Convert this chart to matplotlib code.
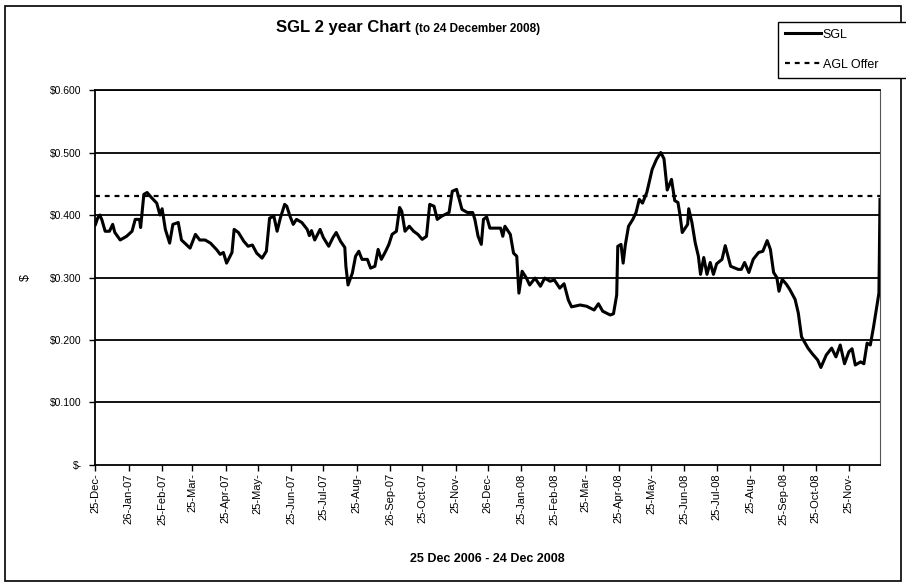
import numpy as np
import matplotlib
matplotlib.use('Agg')
import matplotlib.pyplot as plt
import matplotlib.patches as patches
import pandas as pd


#####################################################################
# data
#####################################################################
# days since 25 Dec 2006 and SGL close price ($)
days = [0, 2, 4, 6, 9, 13, 16, 18, 23, 29, 34, 37, 41, 42, 45, 48, 52, 57, 60, 62,
        65, 69, 72, 77, 80, 85, 88, 93, 97, 102, 107, 113, 116, 119, 122, 127, 129,
        133, 138, 142, 146, 150, 155, 159, 162, 166, 169, 172, 176, 178, 181, 184,
        187, 192, 197, 199, 201, 204, 209, 212, 217, 221, 224, 228, 232, 233, 235,
        239, 242, 245, 248, 253, 256, 260, 263, 266, 270, 273, 276, 280, 283, 285,
        288, 292, 296, 300, 304, 308, 311, 315, 318, 322, 329, 332, 336, 339, 341,
        346, 351, 353, 356, 359, 361, 364, 367, 377, 379, 381, 386, 389, 392, 394,
        397, 401, 404, 409, 414, 418, 423, 427, 432, 436, 440, 443, 451, 457, 464,
        468, 472, 479, 482, 485, 486, 489, 491, 493, 496, 500, 503, 506, 509, 513,
        518, 522, 526, 529, 532, 536, 539, 542, 544, 546, 551, 552, 555, 558, 561,
        563, 566, 569, 572, 575, 578, 583, 586, 591, 598, 601, 604, 608, 612, 617,
        621, 625, 628, 631, 634, 636, 639, 643, 646, 651, 654, 657, 663, 667, 672,
        675, 680, 685, 689, 693, 697, 701, 704, 707, 712, 715, 718, 721, 724, 727,
        729, 730]
sgl = [0.385, 0.395, 0.400, 0.392, 0.374, 0.374, 0.385, 0.372, 0.360, 0.366, 0.374,
       0.393, 0.393, 0.380, 0.433, 0.436, 0.428, 0.419, 0.400, 0.410, 0.377, 0.355,
       0.385, 0.388, 0.360, 0.352, 0.347, 0.369, 0.360, 0.360, 0.355, 0.344, 0.337,
       0.340, 0.323, 0.340, 0.377, 0.372, 0.358, 0.350, 0.352, 0.339, 0.331, 0.342,
       0.395, 0.398, 0.374, 0.395, 0.417, 0.414, 0.398, 0.385, 0.393, 0.388, 0.377,
       0.367, 0.375, 0.360, 0.377, 0.364, 0.350, 0.364, 0.372, 0.358, 0.348, 0.318,
       0.288, 0.307, 0.334, 0.342, 0.329, 0.329, 0.315, 0.318, 0.345, 0.329, 0.342,
       0.353, 0.369, 0.374, 0.412, 0.406, 0.374, 0.382, 0.374, 0.369, 0.361, 0.366,
       0.417, 0.414, 0.393, 0.398, 0.404, 0.438, 0.441, 0.422, 0.409, 0.404, 0.404,
       0.393, 0.366, 0.353, 0.393, 0.397, 0.379, 0.379, 0.366, 0.382, 0.369, 0.339,
       0.334, 0.275, 0.310, 0.299, 0.288, 0.299, 0.286, 0.299, 0.294, 0.296, 0.283,
       0.290, 0.264, 0.253, 0.256, 0.254, 0.248, 0.258, 0.246, 0.240, 0.242, 0.272,
       0.350, 0.353, 0.323, 0.352, 0.382, 0.393, 0.404, 0.425, 0.419, 0.436, 0.473,
       0.489, 0.500, 0.490, 0.440, 0.457, 0.423, 0.420, 0.399, 0.372, 0.385, 0.410,
       0.388, 0.356, 0.334, 0.305, 0.332, 0.305, 0.324, 0.305, 0.322, 0.329, 0.351,
       0.318, 0.313, 0.313, 0.324, 0.308, 0.329, 0.340, 0.342, 0.359, 0.345, 0.308,
       0.300, 0.278, 0.297, 0.289, 0.281, 0.265, 0.243, 0.205, 0.187, 0.178, 0.168,
       0.156, 0.176, 0.187, 0.173, 0.192, 0.162, 0.181, 0.186, 0.160, 0.165, 0.162,
       0.195, 0.192, 0.221, 0.254, 0.275, 0.425]
agl_offer = 0.43

xtick_labels = ['25-Dec-', '26-Jan-07', '25-Feb-07', '25-Mar-', '25-Apr-07', '25-May-',
                '25-Jun-07', '25-Jul-07', '25-Aug-', '26-Sep-07', '25-Oct-07', '25-Nov-',
                '26-Dec-', '25-Jan-08', '25-Feb-08', '25-Mar-', '25-Apr-08', '25-May-',
                '25-Jun-08', '25-Jul-08', '25-Aug-', '25-Sep-08', '25-Oct-08', '25-Nov-']
ytick_vals = [0.0, 0.1, 0.2, 0.3, 0.4, 0.5, 0.6]
ytick_labels = ['$-', '$0.100', '$0.200', '$0.300', '$0.400', '$0.500', '$0.600']

start = pd.Timestamp('2006-12-25')
end = pd.Timestamp('2008-12-24')
dates = start + pd.to_timedelta(days, unit='D')
# ticks on the 25th of every month
tick_dates = pd.date_range('2006-12-01', periods=len(xtick_labels), freq='MS') + pd.Timedelta(days=24)


#####################################################################
# plot
#####################################################################
plt.rcParams['font.family'] = ['Liberation Sans', 'DejaVu Sans']

fig = plt.figure(figsize=(9.06, 5.86), dpi=100)
ax = fig.add_axes([0.1054, 0.2065, 0.8659, 0.6399])

for v in ytick_vals[1:]:
    ax.axhline(v, color='black', lw=1.3, zorder=1)

ax.plot(dates, sgl, color='black', lw=2.2, label='SGL', zorder=3)
ax.plot([start, end], [agl_offer, agl_offer], color='black', lw=1.6,
        linestyle=(0, (2.2, 2.2)), label='AGL Offer', zorder=2)

ax.set_xlim(start, end)
ax.set_ylim(0, 0.6)
ax.set_yticks(ytick_vals)
ax.set_yticklabels(ytick_labels, fontsize=7.5)
ax.set_xticks(tick_dates)
ax.set_xticklabels(xtick_labels, rotation=90, fontsize=8)
ax.tick_params(axis='y', length=4, width=1, pad=6)
ax.tick_params(axis='x', length=4, width=1, pad=2)

for s in ['left', 'bottom', 'top']:
    ax.spines[s].set_linewidth(1.3)
ax.spines['right'].set_linestyle((0, (1, 1)))
ax.spines['right'].set_color('#555555')

ax.set_ylabel('$', fontsize=9, rotation=90)
ax.yaxis.set_label_coords(-0.081, 0.5)
ax.set_xlabel('25 Dec 2006 - 24 Dec 2008', fontsize=9, fontweight='bold', labelpad=20)

# two-part title
fig.text(0.458, 0.953, 'SGL 2 year Chart ', ha='right', va='center',
         fontsize=12, fontweight='bold')
fig.text(0.458, 0.951, '(to 24 December 2008)', ha='left', va='center',
         fontsize=8.5, fontweight='bold')

fig.legend(loc='upper left', bbox_to_anchor=(0.859, 0.863, 0.16, 0.1), mode='expand',
           frameon=True, fancybox=False, edgecolor='black', framealpha=1, fontsize=9,
           handlelength=2.9, handletextpad=0.1, labelspacing=1.45, borderpad=0.55,
           borderaxespad=0)

# chart border
fig.patches.append(patches.Rectangle((0.005, 0.008), 0.99, 0.982, transform=fig.transFigure,
                                     fill=False, ec='black', lw=1.2, zorder=0))

plt.savefig('out.png', dpi=100)
